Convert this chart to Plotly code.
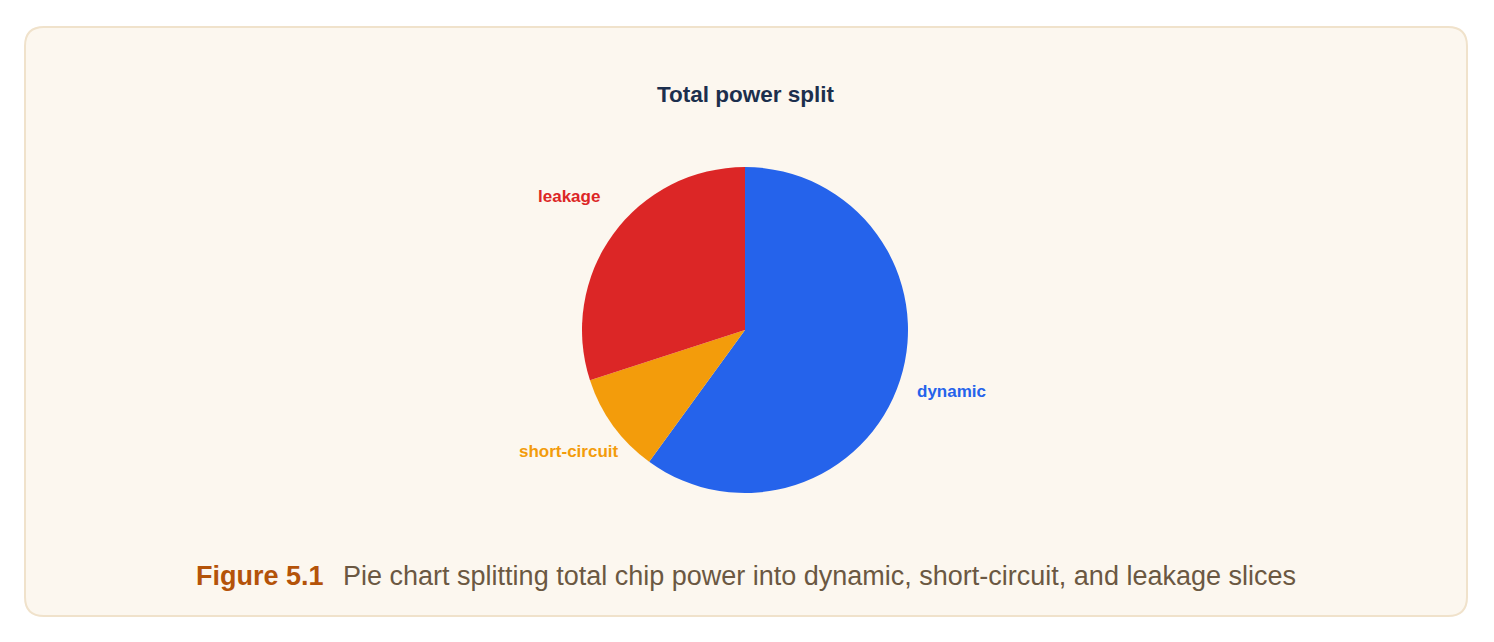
import math
import plotly.graph_objects as go

# power split (share of total chip power, %)
slices = ["dynamic", "short-circuit", "leakage"]
shares = [60, 10, 30]
slice_colors = ["#2563eb", "#f39c0b", "#dc2626"]

W, H = 1494, 642
cx, cy, radius = 745, 330, 163   # pie centre / radius in px
label_r = 217                    # label anchor distance from centre

fig = go.Figure()

fig.add_trace(go.Pie(
    labels=slices,
    values=shares,
    sort=False,
    direction="clockwise",
    rotation=0,
    marker=dict(colors=slice_colors, line=dict(width=0)),
    textinfo="none",
    hoverinfo="label+percent",
    showlegend=False,
    domain=dict(x=[(cx - 300) / W, (cx + 300) / W],
                y=[(H - cy - radius) / H, (H - cy + radius) / H]),
))

# slice labels, placed along each slice's middle angle
total = sum(shares)
start = 0
for name, val, col in zip(slices, shares, slice_colors):
    mid = (start + val / 2) / total * 2 * math.pi
    start += val
    lx = cx + label_r * math.sin(mid)
    ly = cy - label_r * math.cos(mid)
    fig.add_annotation(text=f"<b>{name}</b>", x=lx / W, y=1 - ly / H,
                       xref="paper", yref="paper", showarrow=False,
                       xanchor="center", yanchor="middle", yshift=6,
                       font=dict(size=17, color=col, family="Liberation Sans"))

# card background with rounded corners
x0, y0, x1, y1, r = 25 / W, 1 - 27 / H, 1467 / W, 1 - 616 / H, 19
rx, ry = r / W, r / H
card = (f"M {x0+rx},{y0} L {x1-rx},{y0} Q {x1},{y0} {x1},{y0-ry} "
        f"L {x1},{y1+ry} Q {x1},{y1} {x1-rx},{y1} "
        f"L {x0+rx},{y1} Q {x0},{y1} {x0},{y1+ry} "
        f"L {x0},{y0-ry} Q {x0},{y0} {x0+rx},{y0} Z")
fig.add_shape(type="path", path=card, xref="paper", yref="paper",
              fillcolor="#fcf7ef", line=dict(color="#f0e2cb", width=2), layer="below")

fig.add_annotation(text="<b>Total power split</b>", x=746 / W, y=1 - 95 / H,
                   xref="paper", yref="paper", showarrow=False,
                   xanchor="center", yanchor="middle",
                   font=dict(size=22.5, color="#1c2f4d", family="Liberation Sans"))

fig.add_annotation(
    text="<b><span style='color:#b45309'>Figure 5.1</span></b>"
         "  &#8198;Pie chart splitting total chip power into dynamic, short-circuit, and leakage slices",
    x=746 / W, y=1 - 575.5 / H, xref="paper", yref="paper", showarrow=False,
    xanchor="center", yanchor="middle",
    font=dict(size=27, color="#6b5842", family="Liberation Sans"))

fig.update_layout(
    width=W, height=H,
    margin=dict(l=0, r=0, t=0, b=0),
    paper_bgcolor="white",
    plot_bgcolor="white",
    font=dict(family="Liberation Sans"),
)

fig.write_html("out.html", config={"displayModeBar": False},
               post_script="document.body.style.margin='0';")
